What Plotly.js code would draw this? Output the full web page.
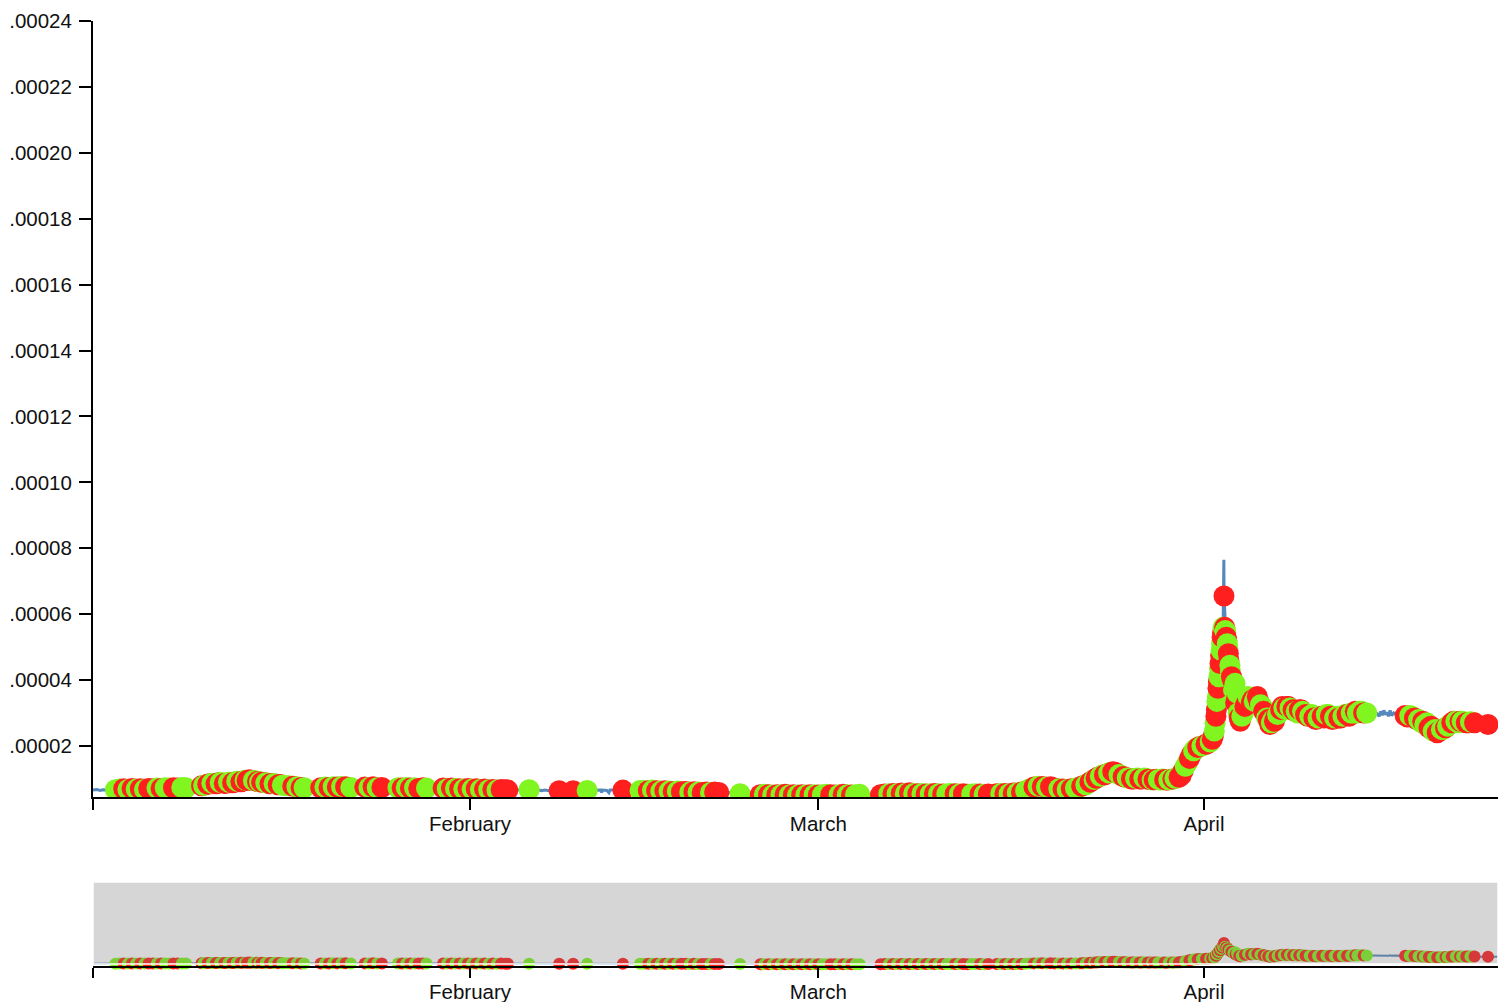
<!DOCTYPE html>
<html><head><meta charset="utf-8">
<script src="https://cdn.plot.ly/plotly-3.0.1.min.js"></script>
<style>html,body{margin:0;padding:0;background:#fff;overflow:hidden}#chart{width:1498px;height:1002px}</style>
</head><body><div id="chart"></div>
<script>
// ---- circle (trade) data ----
const circleDates = [
'2021-01-03 12:00','2021-01-03 20:00','2021-01-04 04:00','2021-01-04 12:00','2021-01-04 20:00','2021-01-05 04:00',
'2021-01-05 12:00','2021-01-05 20:00','2021-01-06 04:00','2021-01-06 12:00','2021-01-06 20:00','2021-01-07 04:00',
'2021-01-07 12:00','2021-01-07 20:00','2021-01-08 04:00','2021-01-08 12:00','2021-01-08 20:00','2021-01-09 04:00',
'2021-01-10 10:00','2021-01-10 18:00','2021-01-11 02:00','2021-01-11 10:00','2021-01-11 18:00','2021-01-12 02:00',
'2021-01-12 10:00','2021-01-12 18:00','2021-01-13 02:00','2021-01-13 10:00','2021-01-13 18:00','2021-01-14 02:00',
'2021-01-14 10:00','2021-01-14 18:00','2021-01-15 02:00','2021-01-15 10:00','2021-01-15 18:00','2021-01-16 02:00',
'2021-01-16 10:00','2021-01-16 18:00','2021-01-17 02:00','2021-01-17 10:00','2021-01-17 18:00','2021-01-18 02:00',
'2021-01-18 10:00','2021-01-18 16:00','2021-01-20 00:00','2021-01-20 08:00','2021-01-20 16:00','2021-01-21 00:00',
'2021-01-21 08:00','2021-01-21 16:00','2021-01-22 00:00','2021-01-22 10:00','2021-01-23 13:00','2021-01-23 21:00',
'2021-01-24 05:00','2021-01-24 13:00','2021-01-24 22:00','2021-01-26 05:00','2021-01-26 13:00','2021-01-26 21:00',
'2021-01-27 05:00','2021-01-27 13:00','2021-01-27 21:00','2021-01-28 05:00','2021-01-28 12:00','2021-01-29 20:00',
'2021-01-30 04:00','2021-01-30 12:00','2021-01-30 20:00','2021-01-31 04:00','2021-01-31 12:00','2021-01-31 20:00',
'2021-02-01 04:00','2021-02-01 12:00','2021-02-01 20:00','2021-02-02 04:00','2021-02-02 12:00','2021-02-02 20:00',
'2021-02-03 04:00','2021-02-03 12:00','2021-02-03 20:00','2021-02-04 01:00','2021-02-05 18:00','2021-02-08 04:00',
'2021-02-09 07:00','2021-02-10 10:00','2021-02-13 07:00','2021-02-14 16:00','2021-02-15 00:00','2021-02-15 08:00',
'2021-02-15 16:00','2021-02-16 00:00','2021-02-16 08:00','2021-02-16 16:00','2021-02-17 00:00','2021-02-17 08:00',
'2021-02-17 16:00','2021-02-18 00:00','2021-02-18 08:00','2021-02-18 16:00','2021-02-19 00:00','2021-02-19 08:00',
'2021-02-19 16:00','2021-02-20 00:00','2021-02-20 08:00','2021-02-20 16:00','2021-02-21 00:00','2021-02-22 17:00',
'2021-02-24 08:00','2021-02-24 16:00','2021-02-25 00:00','2021-02-25 08:00','2021-02-25 16:00','2021-02-26 00:00',
'2021-02-26 08:00','2021-02-26 16:00','2021-02-27 00:00','2021-02-27 08:00','2021-02-27 16:00','2021-02-28 00:00',
'2021-02-28 08:00','2021-02-28 16:00','2021-03-01 00:00','2021-03-01 08:00','2021-03-01 16:00','2021-03-02 00:00',
'2021-03-02 08:00','2021-03-02 16:00','2021-03-03 00:00','2021-03-03 08:00','2021-03-03 16:00','2021-03-04 00:00',
'2021-03-04 08:00','2021-03-06 00:00','2021-03-06 08:00','2021-03-06 16:00','2021-03-07 00:00','2021-03-07 08:00',
'2021-03-07 16:00','2021-03-08 00:00','2021-03-08 08:00','2021-03-08 16:00','2021-03-09 00:00','2021-03-09 08:00',
'2021-03-09 16:00','2021-03-10 00:00','2021-03-10 08:00','2021-03-10 16:00','2021-03-11 00:00','2021-03-11 08:00',
'2021-03-11 16:00','2021-03-12 00:00','2021-03-12 08:00','2021-03-12 16:00','2021-03-13 00:00','2021-03-13 08:00',
'2021-03-13 16:00','2021-03-14 00:00','2021-03-14 08:00','2021-03-14 16:00','2021-03-15 08:00','2021-03-15 16:00',
'2021-03-16 00:00','2021-03-16 08:00','2021-03-16 16:00','2021-03-17 00:00','2021-03-17 08:00','2021-03-17 16:00',
'2021-03-18 00:00','2021-03-18 08:00','2021-03-18 16:00','2021-03-19 00:00','2021-03-19 08:00','2021-03-19 16:00',
'2021-03-20 00:00','2021-03-20 08:00','2021-03-20 16:00','2021-03-21 00:00','2021-03-21 08:00','2021-03-21 16:00',
'2021-03-22 00:00','2021-03-22 08:00','2021-03-22 16:00','2021-03-23 00:00','2021-03-23 08:00','2021-03-23 16:00',
'2021-03-24 00:00','2021-03-24 08:00','2021-03-24 16:00','2021-03-25 00:00','2021-03-25 08:00','2021-03-25 16:00',
'2021-03-26 00:00','2021-03-26 08:00','2021-03-26 16:00','2021-03-27 00:00','2021-03-27 08:00','2021-03-27 16:00',
'2021-03-28 00:00','2021-03-28 08:00','2021-03-28 16:00','2021-03-29 00:00','2021-03-29 08:00','2021-03-29 16:00',
'2021-03-30 00:00','2021-03-30 08:00','2021-03-30 16:00','2021-03-31 00:00','2021-03-31 08:00','2021-03-31 16:00',
'2021-04-01 00:00','2021-04-01 08:00','2021-04-01 16:00','2021-04-01 20:00','2021-04-01 23:00','2021-04-02 01:00',
'2021-04-02 03:00','2021-04-02 05:00','2021-04-02 07:00','2021-04-02 09:00','2021-04-02 11:00','2021-04-02 13:00',
'2021-04-02 14:35','2021-04-02 16:00','2021-04-02 18:00','2021-04-02 20:00','2021-04-02 22:00','2021-04-03 00:00',
'2021-04-03 03:00','2021-04-03 07:00','2021-04-03 12:00','2021-04-03 15:00','2021-04-03 18:00','2021-04-03 22:00',
'2021-04-04 04:00','2021-04-04 10:00','2021-04-04 16:00','2021-04-04 22:00','2021-04-05 04:00','2021-04-05 10:00',
'2021-04-05 16:00','2021-04-05 22:00','2021-04-06 04:00','2021-04-06 10:00','2021-04-06 16:00','2021-04-06 22:00',
'2021-04-07 04:00','2021-04-07 10:00','2021-04-07 16:00','2021-04-07 22:00','2021-04-08 04:00','2021-04-08 10:00',
'2021-04-08 16:00','2021-04-08 22:00','2021-04-09 04:00','2021-04-09 12:00','2021-04-09 20:00','2021-04-10 04:00',
'2021-04-10 12:00','2021-04-10 20:00','2021-04-11 04:00','2021-04-11 12:00','2021-04-11 20:00','2021-04-12 04:00',
'2021-04-12 12:00','2021-04-12 20:00','2021-04-13 04:00','2021-04-13 12:00','2021-04-13 20:00','2021-04-14 02:00',
'2021-04-17 04:00','2021-04-17 13:00','2021-04-17 22:00','2021-04-18 06:00','2021-04-18 14:00','2021-04-18 22:00',
'2021-04-19 06:00','2021-04-19 14:00','2021-04-19 22:00','2021-04-20 06:00','2021-04-20 14:00','2021-04-20 22:00',
'2021-04-21 06:00','2021-04-21 14:00','2021-04-21 22:00','2021-04-22 06:00','2021-04-22 14:00','2021-04-23 20:00'
];
const circleValues = [
6.7e-6,6.9e-6,7.0e-6,6.8e-6,7.1e-6,6.9e-6,
7.0e-6,6.8e-6,7.1e-6,7.0e-6,7.2e-6,7.1e-6,
7.3e-6,7.2e-6,7.3e-6,7.2e-6,7.4e-6,7.3e-6,
7.9e-6,8.2e-6,8.5e-6,8.6e-6,8.8e-6,8.8e-6,
8.7e-6,8.9e-6,9.0e-6,9.2e-6,9.3e-6,9.5e-6,
9.6e-6,9.4e-6,9.1e-6,8.9e-6,8.7e-6,8.6e-6,
8.4e-6,8.3e-6,8.0e-6,7.9e-6,7.8e-6,7.6e-6,
7.4e-6,7.3e-6,7.3e-6,7.5e-6,7.4e-6,7.6e-6,
7.5e-6,7.7e-6,7.6e-6,7.4e-6,7.5e-6,7.4e-6,
7.6e-6,7.3e-6,7.4e-6,7.3e-6,7.2e-6,7.4e-6,
7.2e-6,7.3e-6,7.1e-6,7.3e-6,7.2e-6,7.2e-6,
7.0e-6,7.2e-6,7.1e-6,7.0e-6,6.9e-6,7.1e-6,
6.9e-6,7.0e-6,6.8e-6,6.9e-6,6.7e-6,6.8e-6,
6.6e-6,6.8e-6,6.7e-6,6.6e-6,6.7e-6,6.4e-6,
6.4e-6,6.5e-6,6.6e-6,6.5e-6,6.5e-6,6.4e-6,
6.6e-6,6.4e-6,6.3e-6,6.4e-6,6.3e-6,6.2e-6,
6.3e-6,6.1e-6,6.2e-6,6.0e-6,6.1e-6,6.0e-6,
5.9e-6,6.0e-6,5.9e-6,6.0e-6,5.9e-6,5.5e-6,
5.2e-6,5.3e-6,5.2e-6,5.1e-6,5.2e-6,5.2e-6,
5.3e-6,5.1e-6,5.2e-6,5.1e-6,5.2e-6,5.1e-6,
5.2e-6,5.2e-6,5.1e-6,5.2e-6,5.3e-6,5.2e-6,
5.1e-6,5.2e-6,5.3e-6,5.2e-6,5.1e-6,5.2e-6,
5.3e-6,5.2e-6,5.4e-6,5.5e-6,5.6e-6,5.5e-6,
5.7e-6,5.6e-6,5.8e-6,5.6e-6,5.5e-6,5.6e-6,
5.4e-6,5.5e-6,5.6e-6,5.5e-6,5.4e-6,5.5e-6,
5.6e-6,5.5e-6,5.4e-6,5.5e-6,5.3e-6,5.4e-6,
5.5e-6,5.4e-6,5.3e-6,5.4e-6,5.5e-6,5.6e-6,
5.6e-6,5.5e-6,5.7e-6,5.8e-6,6.0e-6,6.4e-6,
7.0e-6,7.5e-6,7.8e-6,7.7e-6,7.5e-6,7.6e-6,
7.2e-6,7.0e-6,6.9e-6,6.8e-6,7.0e-6,7.2e-6,
7.5e-6,8.0e-6,8.6e-6,9.4e-6,1.02e-5,1.08e-5,
1.12e-5,1.18e-5,1.22e-5,1.17e-5,1.10e-5,1.05e-5,
1.02e-5,1.00e-5,1.03e-5,1.00e-5,1.02e-5,9.8e-6,
9.7e-6,9.8e-6,1.00e-5,9.6e-6,9.8e-6,1.02e-5,
1.05e-5,1.25e-5,1.50e-5,1.75e-5,1.92e-5,1.98e-5,
2.02e-5,2.08e-5,2.20e-5,2.45e-5,2.90e-5,3.35e-5,
3.75e-5,4.10e-5,4.50e-5,4.90e-5,5.30e-5,5.60e-5,
6.55e-5,5.60e-5,5.45e-5,5.20e-5,4.95e-5,4.60e-5,
4.25e-5,4.00e-5,3.90e-5,3.45e-5,3.00e-5,2.75e-5,
3.00e-5,3.30e-5,3.45e-5,3.40e-5,3.45e-5,3.35e-5,
3.20e-5,3.00e-5,2.80e-5,2.70e-5,2.75e-5,2.95e-5,
3.10e-5,3.15e-5,3.20e-5,3.15e-5,3.10e-5,3.05e-5,
3.10e-5,3.05e-5,2.95e-5,2.90e-5,2.85e-5,2.85e-5,
2.90e-5,2.95e-5,2.90e-5,2.85e-5,2.85e-5,2.90e-5,
2.95e-5,3.00e-5,3.05e-5,3.05e-5,3.00e-5,3.00e-5,
2.92e-5,2.92e-5,2.85e-5,2.80e-5,2.75e-5,2.70e-5,
2.60e-5,2.50e-5,2.45e-5,2.50e-5,2.60e-5,2.70e-5,
2.75e-5,2.75e-5,2.72e-5,2.70e-5,2.72e-5,2.65e-5
];
// u = up (green), d = down (red)
const circleDirs = [
'u','u','d','u','d','u', 'd','u','d','d','u','d', 'u','u','d','d','u','u',
'd','u','d','u','d','u', 'd','u','d','u','d','d', 'd','u','u','d','u','d',
'u','d','u','u','d','u', 'd','u','d','u','d','u', 'd','u','d','u','d','u',
'd','u','d','u','d','u', 'd','u','d','d','u','d', 'u','d','u','d','u','d',
'u','d','u','d','u','d', 'u','d','d','d','u','d', 'd','u','d','u','u','d',
'u','d','u','d','u','d', 'u','d','d','u','d','u', 'd','d','u','d','d','u',
'd','u','d','u','d','u', 'd','u','d','u','d','u', 'd','u','d','u','u','d',
'd','u','d','u','d','u', 'u','d','d','u','d','u', 'd','u','d','u','d','u',
'd','u','d','u','d','u', 'u','d','u','d','d','u', 'u','d','u','d','d','u',
'd','u','d','u','d','u', 'u','d','u','d','u','d', 'd','u','d','u','d','u',
'u','d','u','d','d','u', 'd','u','d','d','u','d', 'u','d','u','d','u','d',
'd','u','u','d','u','u', 'd','d','u','d','u','d', 'u','d','d','u','d','u',
'd','u','d','u','d','u', 'd','d','u','d','u','d', 'u','d','u','d','u','d',
'u','d','u','d','u','d', 'u','d','d','u','d','u', 'd','u','d','u','d','u',
'd','u','d','u','d','u', 'd','u','d','u','d','u', 'd','u','d','u','d','u',
'd','u','d','u','d','u', 'd','u','d','u','u','d'
];
const extraDates = [
'2021-01-10 14:00','2021-01-10 22:00','2021-01-11 06:00','2021-01-11 14:00','2021-01-11 22:00','2021-01-12 06:00',
'2021-01-12 14:00','2021-01-12 22:00','2021-01-13 06:00','2021-01-13 14:00','2021-01-13 22:00','2021-01-14 06:00',
'2021-01-14 14:00','2021-01-14 22:00','2021-01-15 06:00','2021-01-15 14:00','2021-01-15 22:00','2021-01-16 06:00',
'2021-01-16 14:00','2021-01-16 22:00',
'2021-03-22 04:00','2021-03-22 12:00','2021-03-22 20:00','2021-03-23 04:00','2021-03-23 12:00','2021-03-23 20:00',
'2021-03-24 04:00','2021-03-24 12:00','2021-03-24 20:00','2021-03-25 04:00','2021-03-25 12:00','2021-03-25 20:00',
'2021-03-26 04:00','2021-03-26 12:00','2021-03-26 20:00','2021-03-27 04:00','2021-03-27 12:00','2021-03-27 20:00',
'2021-03-28 04:00','2021-03-28 12:00','2021-03-28 20:00','2021-03-29 04:00','2021-03-29 12:00','2021-03-29 20:00',
'2021-03-30 04:00','2021-03-30 12:00','2021-03-30 20:00','2021-03-31 04:00','2021-03-31 12:00','2021-03-31 20:00',
'2021-04-01 04:00','2021-04-01 12:00','2021-04-01 18:00','2021-04-01 21:30','2021-04-02 00:00','2021-04-02 02:00',
'2021-04-02 04:00','2021-04-02 06:00','2021-04-02 08:00','2021-04-02 10:00','2021-04-02 12:00','2021-04-02 17:00',
'2021-04-02 19:00','2021-04-02 21:00','2021-04-02 23:00','2021-04-03 02:00','2021-04-03 05:00','2021-04-03 09:00',
'2021-04-03 13:00','2021-04-03 16:00','2021-04-03 20:00','2021-04-04 01:00','2021-04-04 07:00','2021-04-04 13:00',
'2021-04-04 19:00','2021-04-05 01:00','2021-04-05 07:00','2021-04-05 13:00','2021-04-05 19:00','2021-04-06 01:00',
'2021-04-06 07:00','2021-04-06 13:00','2021-04-06 19:00','2021-04-07 01:00','2021-04-07 07:00','2021-04-07 13:00',
'2021-04-07 19:00','2021-04-08 01:00','2021-04-08 07:00','2021-04-08 13:00','2021-04-08 19:00','2021-04-09 00:00',
'2021-04-09 08:00','2021-04-09 16:00','2021-04-10 00:00','2021-04-10 08:00','2021-04-10 16:00','2021-04-11 00:00',
'2021-04-11 08:00','2021-04-11 16:00','2021-04-12 00:00','2021-04-12 08:00','2021-04-12 16:00','2021-04-13 00:00',
'2021-04-13 08:00','2021-04-13 16:00','2021-04-17 08:00','2021-04-17 17:00','2021-04-18 02:00','2021-04-18 10:00',
'2021-04-18 18:00','2021-04-19 02:00','2021-04-19 10:00','2021-04-19 18:00','2021-04-20 02:00','2021-04-20 10:00',
'2021-04-20 18:00','2021-04-21 02:00','2021-04-21 10:00','2021-04-21 18:00','2021-04-22 02:00','2021-04-22 10:00',
'2021-04-22 18:00'
];
const extraValues = [
8.0e-6,8.4e-6,8.7e-6,8.5e-6,8.9e-6,8.6e-6,
9.0e-6,8.8e-6,9.3e-6,9.1e-6,9.6e-6,9.7e-6,
9.5e-6,9.2e-6,9.0e-6,8.8e-6,8.5e-6,8.6e-6,
8.2e-6,8.1e-6,
7.8e-6,8.2e-6,9.0e-6,9.8e-6,1.06e-5,1.12e-5,
1.15e-5,1.20e-5,1.20e-5,1.13e-5,1.07e-5,1.03e-5,
1.00e-5,1.02e-5,1.00e-5,1.03e-5,9.9e-6,9.7e-6,
9.9e-6,9.6e-6,9.8e-6,9.7e-6,1.00e-5,1.03e-5,
1.10e-5,1.38e-5,1.62e-5,1.85e-5,1.95e-5,2.00e-5,
2.05e-5,2.12e-5,2.30e-5,2.70e-5,3.10e-5,3.50e-5,
3.95e-5,4.35e-5,4.75e-5,5.10e-5,5.45e-5,5.50e-5,
5.30e-5,5.10e-5,4.80e-5,4.45e-5,4.10e-5,3.70e-5,
3.30e-5,3.60e-5,2.85e-5,2.90e-5,3.20e-5,3.50e-5,
3.30e-5,3.35e-5,3.50e-5,3.25e-5,3.05e-5,2.85e-5,
2.65e-5,2.80e-5,2.90e-5,3.05e-5,3.20e-5,3.10e-5,
3.20e-5,3.10e-5,3.05e-5,3.00e-5,3.10e-5,3.00e-5,
2.90e-5,2.95e-5,2.80e-5,2.90e-5,2.85e-5,2.95e-5,
2.80e-5,2.90e-5,2.85e-5,2.95e-5,2.90e-5,3.00e-5,
3.00e-5,3.05e-5,2.88e-5,2.90e-5,2.80e-5,2.72e-5,
2.65e-5,2.55e-5,2.45e-5,2.40e-5,2.50e-5,2.55e-5,
2.65e-5,2.75e-5,2.70e-5,2.75e-5,2.70e-5,2.73e-5,
2.70e-5
];
const extraDirs = [
'u','d','u','d','u','d', 'u','d','u','d','u','d', 'u','d','u','d','u','d', 'u','d',
'd','u','d','u','d','u', 'd','u','d','u','d','u', 'd','u','d','u','d','u',
'd','u','d','u','d','u', 'd','u','d','u','d','u', 'd','u','d','u','d','u',
'd','u','d','u','d','u', 'd','u','d','u','d','u', 'd','u','d','u','d','u',
'd','u','d','u','d','u', 'd','u','d','u','d','u', 'd','u','d','u','d','u',
'd','u','d','u','d','u', 'd','u','d','u','d','u', 'd','u','d','u','d','u',
'u','u','d','u','d','u', 'u','d','u','d','u','d', 'u','d','u','u','d','u',
'd'
];
// ---- price line data ----
const lineDates = [
'2021-01-01 16:41','2021-01-02 00:00','2021-01-02 06:00','2021-01-02 12:00','2021-01-02 18:00','2021-01-03 06:00',
'2021-01-04 12:00','2021-01-06 12:00','2021-01-08 12:00','2021-01-09 12:00','2021-01-10 12:00','2021-01-12 00:00',
'2021-01-14 06:00','2021-01-15 12:00','2021-01-17 00:00','2021-01-19 00:00','2021-01-21 00:00','2021-01-23 00:00',
'2021-01-25 12:00','2021-01-28 00:00','2021-01-31 00:00','2021-02-02 00:00','2021-02-04 00:00','2021-02-05 18:00',
'2021-02-06 06:00','2021-02-06 12:00','2021-02-06 18:00','2021-02-07 00:00','2021-02-07 06:00','2021-02-07 12:00',
'2021-02-07 18:00','2021-02-08 04:00','2021-02-09 07:00','2021-02-10 10:00','2021-02-11 00:00','2021-02-11 06:00',
'2021-02-11 12:00','2021-02-11 14:00','2021-02-11 16:00','2021-02-12 00:00','2021-02-12 04:00','2021-02-12 06:00',
'2021-02-12 12:00','2021-02-12 18:00','2021-02-13 07:00','2021-02-16 00:00','2021-02-19 00:00','2021-02-21 00:00',
'2021-02-21 18:00','2021-02-22 17:00','2021-02-24 00:00','2021-02-28 00:00','2021-03-04 00:00','2021-03-05 00:00',
'2021-03-08 00:00','2021-03-12 00:00','2021-03-15 00:00','2021-03-17 00:00','2021-03-18 08:00','2021-03-19 08:00',
'2021-03-21 00:00','2021-03-22 08:00','2021-03-23 08:00','2021-03-24 16:00','2021-03-25 16:00','2021-03-27 00:00',
'2021-03-29 00:00','2021-03-30 00:00','2021-03-30 16:00','2021-03-31 08:00','2021-04-01 08:00','2021-04-01 20:00',
'2021-04-02 01:00','2021-04-02 07:00','2021-04-02 13:00','2021-04-02 14:20','2021-04-02 14:50','2021-04-02 18:00',
'2021-04-03 00:00','2021-04-03 12:00','2021-04-03 22:00','2021-04-04 16:00','2021-04-05 16:00','2021-04-06 10:00',
'2021-04-07 16:00','2021-04-09 12:00','2021-04-11 12:00','2021-04-13 04:00','2021-04-14 02:00','2021-04-14 12:00',
'2021-04-14 22:00','2021-04-15 02:00','2021-04-15 05:00','2021-04-15 08:00','2021-04-15 11:00','2021-04-15 14:00',
'2021-04-15 17:00','2021-04-15 20:00','2021-04-15 23:00','2021-04-16 02:00','2021-04-16 06:00','2021-04-16 12:00',
'2021-04-17 04:00','2021-04-18 14:00','2021-04-19 22:00','2021-04-21 06:00','2021-04-22 14:00','2021-04-23 20:00',
'2021-04-24 15:15'
];
const lineValues = [
6.6e-6,6.8e-6,6.5e-6,6.7e-6,6.6e-6,6.7e-6,
6.9e-6,7.0e-6,7.3e-6,7.4e-6,8.0e-6,8.8e-6,
9.5e-6,8.9e-6,8.0e-6,7.3e-6,7.6e-6,7.5e-6,
7.3e-6,7.2e-6,7.0e-6,6.8e-6,6.6e-6,6.7e-6,
6.5e-6,6.7e-6,6.4e-6,6.6e-6,6.5e-6,6.3e-6,
6.6e-6,6.4e-6,6.4e-6,6.5e-6,6.6e-6,6.5e-6,
6.6e-6,5.9e-6,6.6e-6,6.5e-6,5.8e-6,6.6e-6,
6.5e-6,6.6e-6,6.6e-6,6.4e-6,6.1e-6,5.9e-6,
5.9e-6,5.5e-6,5.3e-6,5.1e-6,5.2e-6,5.3e-6,
5.6e-6,5.5e-6,5.5e-6,5.8e-6,7.5e-6,7.5e-6,
6.8e-6,8.0e-6,1.02e-5,1.22e-5,1.05e-5,1.00e-5,
9.6e-6,1.05e-5,1.50e-5,1.92e-5,2.08e-5,2.45e-5,
3.35e-5,4.50e-5,5.60e-5,7.65e-5,6.50e-5,5.45e-5,
4.60e-5,3.90e-5,2.75e-5,3.45e-5,3.20e-5,2.70e-5,
3.20e-5,2.90e-5,2.85e-5,3.05e-5,3.00e-5,2.95e-5,
2.98e-5,2.90e-5,3.05e-5,2.93e-5,3.08e-5,2.95e-5,
3.02e-5,2.90e-5,3.08e-5,2.92e-5,3.00e-5,2.95e-5,
2.92e-5,2.75e-5,2.45e-5,2.75e-5,2.72e-5,2.65e-5,
2.63e-5
];
// ---- axes ----
const yTickValues = [0.00002,0.00004,0.00006,0.00008,0.00010,0.00012,0.00014,0.00016,0.00018,0.00020,0.00022,0.00024];
const yTickLabels = ['.00002','.00004','.00006','.00008','.00010','.00012','.00014','.00016','.00018','.00020','.00022','.00024'];
const monthTickDates = ['2021-02-01','2021-03-01','2021-04-01'];
const monthTickLabels = ['February','March','April'];
const xStart = '2021-01-01 16:41';
const xEnd = '2021-04-24 15:15';

const RED = '#ff1f1f', GREEN = '#80f51f', LINE = '#5589bd';

// merge trades and draw them in time order
const allDates = circleDates.concat(extraDates);
const allValues = circleValues.concat(extraValues);
const allDirs = circleDirs.concat(extraDirs);
const order = allDates.map((d, i) => i).sort((a, b) => allDates[a] < allDates[b] ? -1 : allDates[a] > allDates[b] ? 1 : a - b);
const tX = order.map(i => allDates[i]);
const tY = order.map(i => allValues[i]);
const tC = order.map(i => allDirs[i] === 'u' ? GREEN : RED);

const FONT = {family: 'Liberation Sans, Arial, Helvetica, sans-serif', size: 20.5, color: '#111'};

const traces = [
  {x: lineDates, y: lineValues, xaxis: 'x', yaxis: 'y', mode: 'lines', line: {color: LINE, width: 3}, hoverinfo: 'skip'},
  {x: tX, y: tY, xaxis: 'x', yaxis: 'y', mode: 'markers',
   marker: {size: 21, color: tC, line: {width: 0}}, hoverinfo: 'skip'},
  {x: lineDates, y: lineValues, xaxis: 'x2', yaxis: 'y2', mode: 'lines', line: {color: LINE, width: 2}, hoverinfo: 'skip'},
  {x: tX, y: tY, xaxis: 'x2', yaxis: 'y2', mode: 'markers', cliponaxis: false,
   marker: {size: 12, color: tC, line: {width: 0}}, hoverinfo: 'skip'}
];

const H = 945; // plot area height (px) from 21 to 966
const xTickVals = [xStart].concat(monthTickDates);
const xTickText = [''].concat(monthTickLabels);
const axisCommon = {showgrid: false, zeroline: false, showline: true, linecolor: '#000', linewidth: 2,
  ticks: 'outside', tickcolor: '#000', tickwidth: 2, tickfont: FONT, fixedrange: true};

const layout = {
  width: 1498, height: 1002,
  margin: {l: 93, r: 0, t: 21, b: 36, pad: 0},
  paper_bgcolor: '#fff', plot_bgcolor: 'rgba(0,0,0,0)',
  showlegend: false, hovermode: false,
  font: FONT,
  xaxis: Object.assign({}, axisCommon, {type: 'date', range: [xStart, xEnd], anchor: 'y', domain: [0, 1],
    tickmode: 'array', tickvals: xTickVals, ticktext: xTickText, ticklen: 11, ticklabelstandoff: -4}),
  yaxis: Object.assign({}, axisCommon, {range: [4.5e-6, 0.00024], domain: [(966 - 797) / H, 1], anchor: 'x',
    tickmode: 'array', tickvals: yTickValues, ticktext: yTickLabels, ticklen: 12, ticklabelstandoff: 3}),
  xaxis2: Object.assign({}, axisCommon, {type: 'date', range: [xStart, xEnd], anchor: 'y2', domain: [0, 1],
    tickmode: 'array', tickvals: xTickVals, ticktext: xTickText, ticklen: 10, ticklabelstandoff: -4}),
  yaxis2: {range: [0, 0.00024], domain: [0, (966 - 882) / H], anchor: 'x2', visible: false, fixedrange: true},
  shapes: [
    {type: 'rect', xref: 'paper', yref: 'paper', x0: 0, x1: 1, y0: (966 - 964) / H, y1: (966 - 882) / H,
     fillcolor: 'rgba(119,119,119,0.3)', line: {color: '#fff', width: 1.5}, layer: 'above'}
  ]
};

Plotly.newPlot('chart', traces, layout, {staticPlot: true, displayModeBar: false});
</script>
</body></html>
